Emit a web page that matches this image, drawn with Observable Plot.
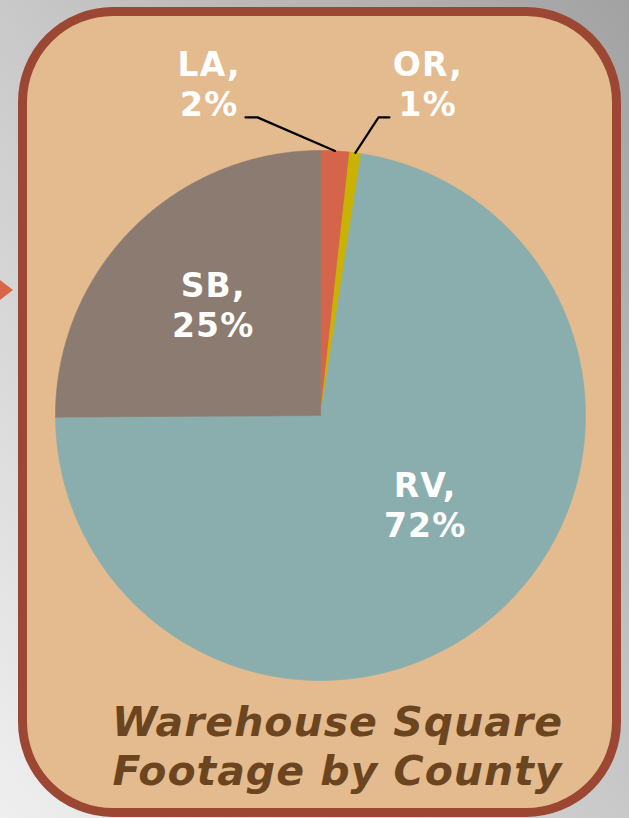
<!DOCTYPE html>
<html><head><meta charset="utf-8">
<script src="https://cdn.jsdelivr.net/npm/d3@7"></script>
<script src="https://cdn.jsdelivr.net/npm/@observablehq/plot@0.6"></script>
<style>
html,body{margin:0;padding:0;width:629px;height:818px;overflow:hidden;}
#bg{position:absolute;left:0;top:0;width:629px;height:818px;background:linear-gradient(to top right,#efefef,#a2a2a2);}
#arrow{position:absolute;left:0;top:280px;width:0;height:0;border-top:10px solid transparent;border-bottom:10px solid transparent;border-left:13px solid #d8674a;}
#card{position:absolute;left:18px;top:7px;width:585px;height:792px;border:9px solid #9b4733;border-radius:95px;background:#e3bb8f;}
#chart{position:absolute;left:0;top:0;}
#chart svg text{letter-spacing:1.2px;}
#title{position:absolute;left:23px;top:698px;width:629px;text-align:center;font:italic bold 41px "DejaVu Sans",sans-serif;line-height:49px;letter-spacing:1px;color:#6b4520;}
</style></head>
<body>
<div id="bg"></div>
<div id="arrow"></div>
<div id="card"></div>
<div id="chart"></div>
<div id="title">Warehouse Square<br>Footage by County</div>
<script>
// Data (clockwise from 12 o'clock)
const counties = ["LA", "OR", "RV", "SB"];
const shares = [1.75, 0.7, 72.45, 25.1];
const colors = ["#d4644a", "#c9b300", "#8aaeae", "#8b7b70"];

// label layout (unit = pie radius, centre at 0,0)
const labelX = [-0.42, 0.405, 0.395, -0.405];
const labelTop = [1.39, 1.39, -0.2, 0.555];
const leaderElbowX = [-0.238, 0.219, null, null];
const leaderEndX = [-0.283, 0.26, null, null];
const leaderY = 1.125;

const total = d3.sum(shares);
const pie = d3.pie().sort(null).value(d => d.value)(counties.map((c, i) => ({name: c, value: shares[i]})));

// slice polygons
const slicePts = [];
pie.forEach(p => {
  const name = p.data.name;
  slicePts.push({name, x: 0, y: 0});
  const n = Math.max(2, Math.ceil((p.endAngle - p.startAngle) / 0.005));
  for (let k = 0; k <= n; k++) {
    const a = p.startAngle + (p.endAngle - p.startAngle) * k / n;
    slicePts.push({name, x: Math.sin(a), y: Math.cos(a)});
  }
  slicePts.push({name, x: 0, y: 0});
});

const labels = pie.map((p, i) => ({
  name: p.data.name,
  text: `${p.data.name},\n${Math.round(p.data.value / total * 100)}%`,
  x: labelX[i], y: labelTop[i]
}));

const leaders = [];
pie.forEach((p, i) => {
  if (leaderElbowX[i] == null) return;
  const m = (p.startAngle + p.endAngle) / 2;
  leaders.push({name: p.data.name, x: Math.sin(m), y: Math.cos(m)});
  leaders.push({name: p.data.name, x: leaderElbowX[i], y: leaderY});
  leaders.push({name: p.data.name, x: leaderEndX[i], y: leaderY});
});

const W = 629, H = 700, cx = 320, cy = 415, R = 265;
const chart = Plot.plot({
  width: W, height: H,
  margin: 0,
  style: {background: "transparent", overflow: "visible"},
  x: {domain: [-cx / R, (W - cx) / R], range: [0, W], axis: null},
  y: {domain: [-(H - cy) / R, cy / R], range: [H, 0], axis: null},
  color: {domain: counties, range: colors},
  marks: [
    Plot.line(slicePts, {x: "x", y: "y", z: "name", fill: "name", stroke: "name", strokeWidth: 0.6, curve: "linear"}),
    Plot.line(leaders, {x: "x", y: "y", z: "name", stroke: "black", strokeWidth: 2.2}),
    Plot.text(labels, {x: "x", y: "y", text: "text", fill: "white", fontSize: 33, fontWeight: "bold",
      fontFamily: "DejaVu Sans", lineAnchor: "top", lineHeight: 1.22, textAnchor: "middle"})
  ]
});
document.getElementById("chart").appendChild(chart);
</script>
</body></html>
